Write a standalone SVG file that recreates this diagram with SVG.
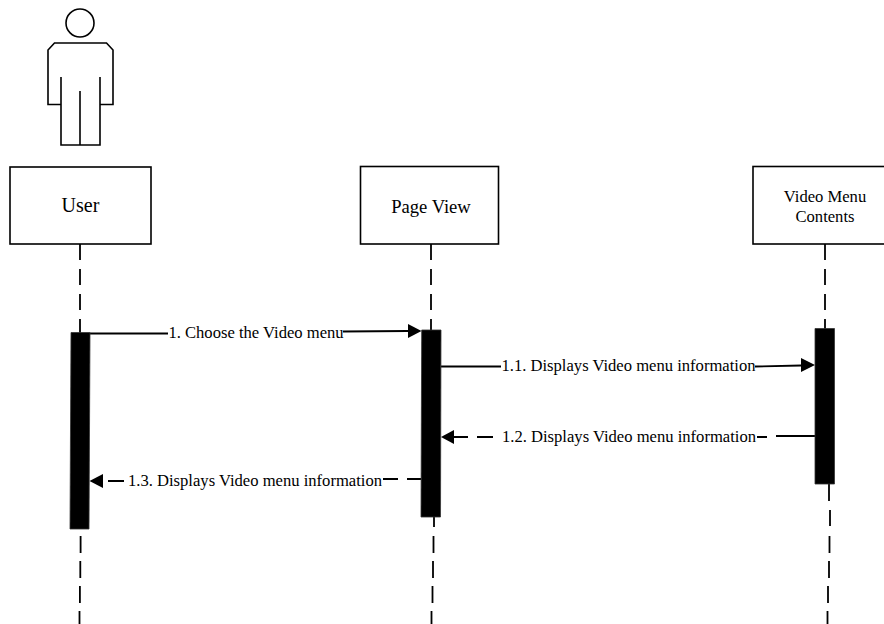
<svg xmlns="http://www.w3.org/2000/svg" width="884" height="624" viewBox="0 0 884 624">
<defs>
<style>
text{font-family:"Liberation Serif","Times New Roman",serif;fill:#000;text-anchor:middle}
.lbl{font-size:16.6px}
.box{fill:#fff;stroke:#000;stroke-width:1.6}
.act{fill:#000;stroke:#333;stroke-width:.8}
.fig{fill:none;stroke:#000;stroke-width:1.6}
.life{fill:none;stroke:#000;stroke-width:1.8;stroke-dasharray:16 9}
.msg{fill:none;stroke:#000;stroke-width:1.8}
</style>
</defs>
<rect width="884" height="624" fill="#fff"/>
<g id="connectors">
<path class="life" d="M80 244V333"/>
<path class="life" d="M431 244V330"/>
<path class="life" d="M825 244V329"/>
<path class="msg" d="M80.600 536V553M80.300 561V578M79.900 586V603M79.500 611V624"/>
<path class="msg" d="M434 517V527M433.500 536V553M433 561V578M432.500 586V603M431.500 611V624"/>
<path class="msg" d="M829 484V501M830 510V526M829.500 536V553M829 561V578M828 586V603M827.500 611V624"/>
<path class="msg" d="M90 333.500H168M343 331.500L408 331"/>
<polygon points="421.500,331 408,324 408,338"/>
<path class="msg" d="M441 366.500H501M755 366.500L801 365.500"/>
<polygon points="815,365 801,358 801,372"/>
<path class="msg" d="M454 437H468M477 437H493M757 437H767M776 436H815"/>
<polygon points="441,437 454,430 454,444"/>
<path class="msg" d="M383 479H398M407 479H421M108 481H124"/>
<polygon points="89.500,481 103,474 103,488"/>
</g>
<g id="actor">
<circle class="fig" cx="80" cy="23" r="14"/>
<path class="fig" d="M61 104.500H48V50L54.500 43H106.500L113 50V104.500H100"/>
<path class="fig" d="M61 77V145H100V77M80 91V145"/>
</g>
<g id="user"><rect class="box" x="10" y="167" width="141" height="77"/><text x="80.500" y="212" font-size="20">User</text></g>
<g id="page-view"><rect class="box" x="360.500" y="166.500" width="138" height="77.500"/><text x="431" y="213" font-size="18.600">Page View</text></g>
<g id="video-menu-contents"><rect class="box" x="753" y="166.500" width="140" height="77.500"/><text x="825" y="202" class="lbl">Video Menu</text><text x="825" y="222" class="lbl">Contents</text></g>
<g id="user-activation"><polygon class="act" points="71,332.500 90,332.500 89,529 70,529"/></g>
<g id="page-activation"><polygon class="act" points="421.700,330 441,330 440.500,517 421,517"/></g>
<g id="video-activation"><polygon class="act" points="815,328.500 834.500,328.500 834.500,484 815,484"/></g>
<g id="labels">
<text class="lbl" x="256" y="338">1. Choose the Video menu</text>
<text class="lbl" x="628.500" y="371">1.1. Displays Video menu information</text>
<text class="lbl" x="629" y="442">1.2. Displays Video menu information</text>
<text class="lbl" x="255" y="486">1.3. Displays Video menu information</text>
</g>
</svg>
